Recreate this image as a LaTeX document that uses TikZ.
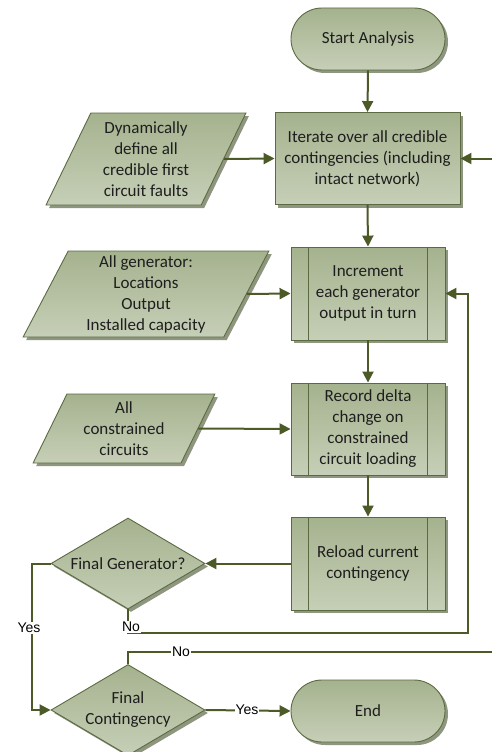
\documentclass[tikz,border=0pt]{standalone}
\usepackage{fontspec}
\setmainfont{Carlito}
\newfontfamily\lblfont{Liberation Sans}
\usetikzlibrary{arrows.meta,shapes.geometric,shadows}
\definecolor{fillTop}{HTML}{A5B28E}
\definecolor{fillBot}{HTML}{C6CFB7}
\definecolor{edgeC}{HTML}{5C6A42}
\definecolor{lineC}{HTML}{4B5A26}
\definecolor{shadowC}{HTML}{8F9680}
\definecolor{txtC}{HTML}{1E1E1E}
\begin{document}
\begin{tikzpicture}[x=1pt,y=-1pt,
  shapebase/.style={draw=edgeC, line width=0.9pt, top color=fillTop, bottom color=fillBot,
    drop shadow={shadow xshift=3pt, shadow yshift=-3pt, fill=shadowC, opacity=1},
    text=txtC, font=\fontsize{17}{21}\selectfont, align=center, inner sep=0pt},
  term/.style={shapebase, rectangle, rounded corners=31pt, minimum width=154pt, minimum height=62pt},
  proc/.style={shapebase, rectangle, minimum width=154pt, minimum height=93pt},
  data/.style={shapebase, trapezium, trapezium stretches=true},
  decis/.style={shapebase, diamond, shape aspect=1.7, minimum width=154pt, minimum height=91pt},
  conn/.style={draw=lineC, line width=2pt, -{Triangle[length=11pt,width=11pt]}},
  plain/.style={draw=lineC, line width=2pt},
  lbl/.style={fill=white, inner sep=1pt, text=black, font=\lblfont\fontsize{14}{16}\selectfont},
  sideline/.style={draw=edgeC, line width=0.9pt}
]
\useasboundingbox (0,0) rectangle (492,752);
\clip (0,0) rectangle (492,752);

% nodes
\node[term] (start) at (368,39) {Start Analysis};
\node[proc, minimum width=185pt, minimum height=92pt] (iter) at (367.5,158.5)
  {Iterate over all credible\\contingencies (including\\intact network)};
\node[data, trapezium left angle=65, trapezium right angle=115,
  minimum width=200pt, minimum height=92pt] (dyn) at (146,159)
  {Dynamically\\define all\\credible first\\circuit faults};
\node[proc] (incr) at (368,293.5) {Increment\\each generator\\output in turn};
\node[data, trapezium left angle=66, trapezium right angle=114,
  minimum width=246pt, minimum height=86pt] (gen) at (146,294)
  {All generator:\\Locations\\Output\\Installed capacity};
\node[proc, minimum height=92pt] (rec) at (368,429) {Record delta\\change on\\constrained\\circuit loading};
\node[data, trapezium left angle=66, trapezium right angle=114,
  minimum width=182pt, minimum height=69pt] (con) at (124,428.5)
  {All\\constrained\\circuits};
\node[proc] (rel) at (368,563.5) {Reload current\\contingency};
\node[decis] (fg) at (128,563.5) {Final Generator?};
\node[decis] (fc) at (128,710) {Final\\Contingency};
\node[term] (end) at (368,711) {End};

% inner lines of predefined processes
\foreach \n in {incr,rec,rel}{
  \draw[sideline] ([xshift=18pt]\n.north west) -- ([xshift=18pt]\n.south west);
  \draw[sideline] ([xshift=-18pt]\n.north east) -- ([xshift=-18pt]\n.south east);
}

% helper coordinates
\coordinate (yesbend) at (32,563.5);
\coordinate (nobend) at (468,633);
\coordinate (loopbend) at (510,652);

% connectors
\draw[conn] (start.south) -- (iter.north);
\draw[conn] (dyn.east) -- (iter.west);
\draw[conn] (iter.south) -- (incr.north);
\draw[conn] (gen.east) -- (incr.west);
\draw[conn] (incr.south) -- (rec.north);
\draw[conn] (con.east) -- (rec.west);
\draw[conn] (rec.south) -- (rel.north);
\draw[conn] (rel.west) -- (fg.east);
\draw[conn] (fg.west) -- (yesbend) |- (fc.west);
\draw[conn] (fg.south) |- (nobend) |- (incr.east);
\draw[conn] (fc.north) |- (loopbend) |- (iter.east);
\draw[conn] (fc.east) -- (end.west);

% labels
\node[lbl] (lyes1) at (29,628) {Yes};
\node[lbl] (lno1) at (131,627) {No};
\node[lbl] (lno2) at (181,652) {No};
\node[lbl] (lyes2) at (247,710) {Yes};
\end{tikzpicture}
\end{document}
